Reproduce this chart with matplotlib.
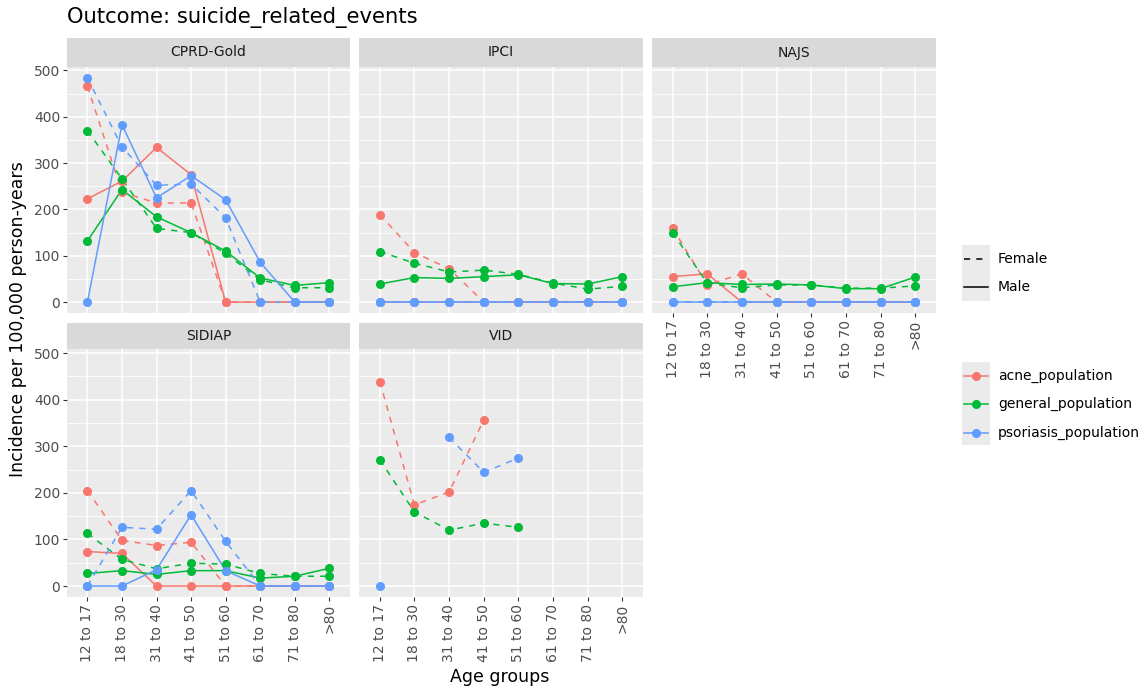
import numpy as np
import matplotlib
matplotlib.use("Agg")
import matplotlib.pyplot as plt
from matplotlib.patches import Rectangle
from matplotlib.lines import Line2D

nan = np.nan
age_groups = ["12 to 17", "18 to 30", "31 to 40", "41 to 50", "51 to 60", "61 to 70", "71 to 80", ">80"]
databases = ["CPRD-Gold", "IPCI", "NAJS", "SIDIAP", "VID"]
populations = ["acne_population", "general_population", "psoriasis_population"]
sexes = ["Female", "Male"]
colors = {"acne_population": "#F8766D", "general_population": "#00BA38", "psoriasis_population": "#619CFF"}
y_ticks = [0, 100, 200, 300, 400, 500]

# Incidence per 100,000 person-years
cprd_acne_f = [466, 237, 214, 214, 0, 0, 0, 0]
cprd_acne_m = [223, 261, 334, 275, 0, 0, 0, 0]
cprd_gen_f = [370, 266, 159, 150, 105, 48, 31, 31]
cprd_gen_m = [132, 243, 184, 150, 110, 52, 36, 42]
cprd_pso_f = [484, 335, 252, 255, 182, 0, 0, 0]
cprd_pso_m = [0, 383, 225, 273, 221, 86, 0, 0]

ipci_acne_f = [189, 107, 72, 0, 0, 0, 0, 0]
ipci_acne_m = [0, 0, 0, 0, 0, 0, 0, 0]
ipci_gen_f = [109, 84, 65, 69, 60, 41, 28, 34]
ipci_gen_m = [39, 53, 51, 55, 59, 40, 39, 55]
ipci_pso_f = [0, 0, 0, 0, 0, 0, 0, 0]
ipci_pso_m = [0, 0, 0, 0, 0, 0, 0, 0]

najs_acne_f = [160, 37, 61, 0, 0, 0, 0, 0]
najs_acne_m = [55, 61, 0, 0, 0, 0, 0, 0]
najs_gen_f = [150, 41, 31, 37, 37, 30, 30, 35]
najs_gen_m = [33, 42, 38, 39, 37, 29, 29, 54]
najs_pso_f = [0, 0, 0, 0, 0, 0, 0, 0]
najs_pso_m = [0, 0, 0, 0, 0, 0, 0, 0]

sidiap_acne_f = [205, 98, 87, 94, 0, 0, 0, 0]
sidiap_acne_m = [74, 70, 0, 0, 0, 0, 0, 0]
sidiap_gen_f = [113, 57, 37, 49, 47, 27, 21, 21]
sidiap_gen_m = [27, 33, 25, 33, 33, 17, 21, 38]
sidiap_pso_f = [0, 126, 122, 205, 96, 0, 0, 0]
sidiap_pso_m = [0, 0, 35, 153, 33, 0, 0, 0]

vid_acne_f = [439, 174, 202, 357, nan, nan, nan, nan]
vid_gen_f = [271, 159, 120, 135, 126, nan, nan, nan]
vid_pso_f = [0, nan, 319, 244, 275, nan, nan, nan]

data = {
    "CPRD-Gold": {("acne_population", "Female"): cprd_acne_f, ("acne_population", "Male"): cprd_acne_m,
                  ("general_population", "Female"): cprd_gen_f, ("general_population", "Male"): cprd_gen_m,
                  ("psoriasis_population", "Female"): cprd_pso_f, ("psoriasis_population", "Male"): cprd_pso_m},
    "IPCI": {("acne_population", "Female"): ipci_acne_f, ("acne_population", "Male"): ipci_acne_m,
             ("general_population", "Female"): ipci_gen_f, ("general_population", "Male"): ipci_gen_m,
             ("psoriasis_population", "Female"): ipci_pso_f, ("psoriasis_population", "Male"): ipci_pso_m},
    "NAJS": {("acne_population", "Female"): najs_acne_f, ("acne_population", "Male"): najs_acne_m,
             ("general_population", "Female"): najs_gen_f, ("general_population", "Male"): najs_gen_m,
             ("psoriasis_population", "Female"): najs_pso_f, ("psoriasis_population", "Male"): najs_pso_m},
    "SIDIAP": {("acne_population", "Female"): sidiap_acne_f, ("acne_population", "Male"): sidiap_acne_m,
               ("general_population", "Female"): sidiap_gen_f, ("general_population", "Male"): sidiap_gen_m,
               ("psoriasis_population", "Female"): sidiap_pso_f, ("psoriasis_population", "Male"): sidiap_pso_m},
    "VID": {("acne_population", "Female"): vid_acne_f,
            ("general_population", "Female"): vid_gen_f,
            ("psoriasis_population", "Female"): vid_pso_f},
}

W, H = 1144, 688
fig = plt.figure(figsize=(W / 100, H / 100), dpi=100)
fig.patch.set_facecolor("white")

def fax(l, t, r, b, **kw):
    return fig.add_axes([l / W, 1 - b / H, (r - l) / W, (b - t) / H], **kw)

cols = [(66.7, 350.0), (359.0, 643.3), (651.7, 936.0)]
rows = [(38.3, 66.7, 313.3), (322.7, 349.3, 597.3)]
layout = {"CPRD-Gold": (0, 0), "IPCI": (0, 1), "NAJS": (0, 2), "SIDIAP": (1, 0), "VID": (1, 1)}
bottom_panels = {"NAJS", "SIDIAP", "VID"}

LW = 1.1
MS = 5.5
x = np.arange(len(age_groups))
for db in databases:
    r, c = layout[db]
    l, rr = cols[c]
    st, pt, pb = rows[r]
    # strip
    sax = fax(l, st, rr, pt)
    sax.set_facecolor("#D9D9D9")
    sax.set_xticks([]); sax.set_yticks([])
    for s in sax.spines.values():
        s.set_visible(False)
    sax.text(0.5, 0.5, db, ha="center", va="center", fontsize=10, color="#1A1A1A", transform=sax.transAxes)
    ax = fax(l, pt, rr, pb)
    ax.set_facecolor("#EBEBEB")
    for s in ax.spines.values():
        s.set_visible(False)
    ax.set_xlim(-0.6, len(age_groups) - 0.4)
    ax.set_ylim(-24.2, 508.2)
    ax.set_yticks(y_ticks)
    ax.set_yticks([50, 150, 250, 350, 450], minor=True)
    ax.set_xticks(x)
    ax.grid(which="major", color="white", lw=1.1)
    ax.grid(which="minor", axis="y", color="white", lw=0.55)
    ax.set_axisbelow(True)
    ax.tick_params(which="minor", length=0)
    ax.tick_params(which="major", color="#333333", length=3.2, width=0.8, labelcolor="#4D4D4D", labelsize=10, pad=1.5)
    if c == 0:
        ax.set_yticklabels([str(v) for v in y_ticks])
    else:
        ax.tick_params(axis="y", which="major", length=0, labelleft=False)
    if db in bottom_panels:
        ax.set_xticklabels(age_groups, rotation=90, va="top", ha="center")
    else:
        ax.tick_params(axis="x", which="major", length=0, labelbottom=False)
    series = data[db]
    for pop in populations:
        for sex in sexes:
            if (pop, sex) in series:
                ls = (0, (4, 4)) if sex == "Female" else "-"
                ax.plot(x, series[(pop, sex)], color=colors[pop], lw=LW, ls=ls, zorder=2)
    for pop in populations:
        for sex in sexes:
            if (pop, sex) in series:
                ax.plot(x, series[(pop, sex)], color=colors[pop], lw=0, marker="o", ms=MS, zorder=3)

# overlay for title, labels and legends in pixel coordinates
ov = fig.add_axes([0, 0, 1, 1], facecolor="none")
ov.set_xlim(0, W); ov.set_ylim(H, 0)
ov.axis("off")
ov.text(66.7, 18, "Outcome: suicide_related_events", fontsize=15.2, color="black", ha="left", va="center")
ov.text(500, 677, "Age groups", fontsize=12.5, color="black", ha="center", va="center")
ov.text(18, 319, "Incidence per 100,000 person-years", fontsize=12.5, color="black",
        ha="center", va="center", rotation=90)

# linetype legend
ov.add_patch(Rectangle((961.7, 245), 28.3, 56, facecolor="#EBEBEB", edgecolor="none"))
for yy, lab, ls in [(259.3, "Female", (0, (4, 4))), (286.7, "Male", "-")]:
    ov.add_line(Line2D([964, 988], [yy, yy], color="black", lw=LW, ls=ls))
    ov.text(998, yy, lab, fontsize=10, color="black", ha="left", va="center")

# colour legend
ov.add_patch(Rectangle((961.7, 361.7), 28.3, 83.3, facecolor="#EBEBEB", edgecolor="none"))
for yy, pop in zip([376, 404, 432.5], populations):
    ov.add_line(Line2D([964, 988], [yy, yy], color=colors[pop], lw=LW))
    ov.add_line(Line2D([976], [yy], color=colors[pop], lw=0, marker="o", ms=MS))
    ov.text(998, yy, pop, fontsize=10, color="black", ha="left", va="center")

fig.savefig("out.png", dpi=100)
